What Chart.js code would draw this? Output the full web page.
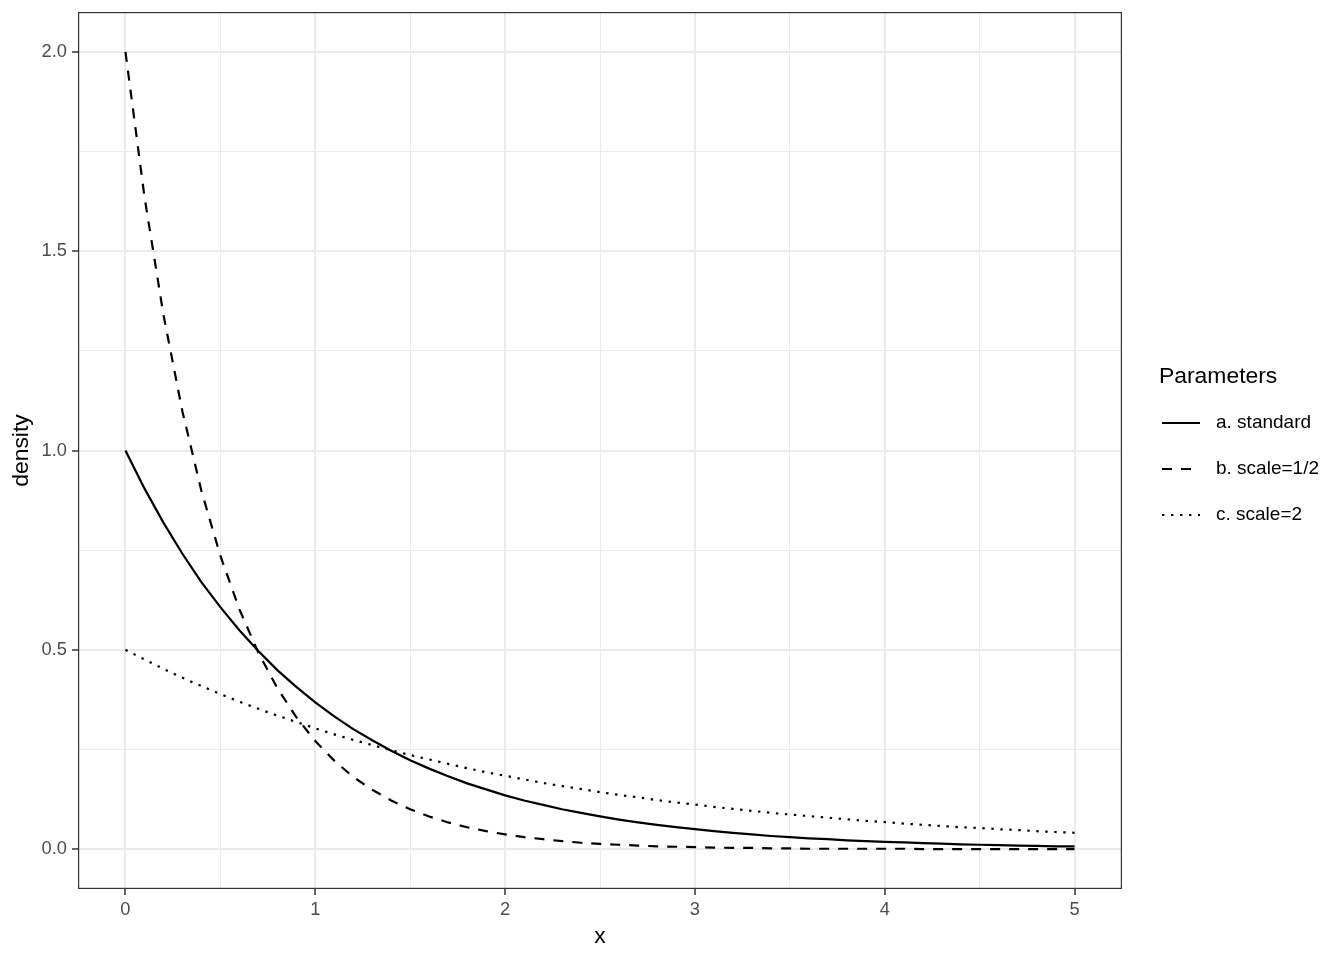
<!DOCTYPE html>
<html>
<head>
<meta charset="utf-8">
<title>Exponential densities</title>
<script src="https://cdn.jsdelivr.net/npm/chart.js@4"></script>
<style>
  html, body { margin: 0; padding: 0; background: #fff; }
  canvas { display: block; }
</style>
</head>
<body>
<canvas id="chart" width="1344" height="960"></canvas>
<script>
// x grid the curves were read at (step 0.1)
const xValues = [0, 0.1, 0.2, 0.3, 0.4, 0.5, 0.6, 0.7, 0.8, 0.9, 1, 1.1, 1.2, 1.3, 1.4, 1.5, 1.6, 1.7, 1.8, 1.9, 2,
  2.1, 2.2, 2.3, 2.4, 2.5, 2.6, 2.7, 2.8, 2.9, 3, 3.1, 3.2, 3.3, 3.4, 3.5, 3.6, 3.7, 3.8, 3.9, 4,
  4.1, 4.2, 4.3, 4.4, 4.5, 4.6, 4.7, 4.8, 4.9, 5];

const seriesLabels = ['a. standard', 'b. scale=1/2', 'c. scale=2'];

const standard = [1.000, 0.905, 0.819, 0.741, 0.670, 0.607, 0.549, 0.497, 0.449, 0.407, 0.368,
  0.333, 0.301, 0.273, 0.247, 0.223, 0.202, 0.183, 0.165, 0.150, 0.135,
  0.122, 0.111, 0.100, 0.091, 0.082, 0.074, 0.067, 0.061, 0.055, 0.050,
  0.045, 0.041, 0.037, 0.033, 0.030, 0.027, 0.025, 0.022, 0.020, 0.018,
  0.017, 0.015, 0.014, 0.012, 0.011, 0.010, 0.009, 0.008, 0.007, 0.007];

const scaleHalf = [2.000, 1.637, 1.341, 1.098, 0.899, 0.736, 0.602, 0.493, 0.404, 0.331, 0.271,
  0.222, 0.181, 0.149, 0.122, 0.100, 0.082, 0.067, 0.055, 0.045, 0.037,
  0.030, 0.025, 0.020, 0.016, 0.013, 0.011, 0.009, 0.007, 0.006, 0.005,
  0.004, 0.003, 0.003, 0.002, 0.002, 0.001, 0.001, 0.001, 0.001, 0.001,
  0.001, 0.000, 0.000, 0.000, 0.000, 0.000, 0.000, 0.000, 0.000, 0.000];

const scaleTwo = [0.500, 0.476, 0.452, 0.430, 0.409, 0.389, 0.370, 0.352, 0.335, 0.319, 0.303,
  0.288, 0.274, 0.261, 0.248, 0.236, 0.225, 0.214, 0.203, 0.193, 0.184,
  0.175, 0.166, 0.158, 0.151, 0.143, 0.136, 0.130, 0.123, 0.117, 0.112,
  0.106, 0.101, 0.096, 0.091, 0.087, 0.083, 0.079, 0.075, 0.071, 0.068,
  0.064, 0.061, 0.058, 0.055, 0.053, 0.050, 0.048, 0.045, 0.043, 0.041];

// major ticks are labelled, minor ones only get a thin grid line
const xTicks = [0, 0.5, 1, 1.5, 2, 2.5, 3, 3.5, 4, 4.5, 5];
const xMajor = [0, 1, 2, 3, 4, 5];
const yTicks = [0, 0.25, 0.5, 0.75, 1, 1.25, 1.5, 1.75, 2];
const yMajor = [0, 0.5, 1, 1.5, 2];

const FONT = '"Liberation Sans", Arial, sans-serif';
const lineStyles = [[], [10, 9], [2.4, 6.6]];

function toPoints(ys) {
  return xValues.map((x, i) => ({ x: x, y: ys[i] }));
}

function inList(list, v) {
  return list.some(m => Math.abs(m - v) < 1e-6);
}

// grey20 panel border like theme_bw
const panelBorder = {
  id: 'panelBorder',
  afterDraw(chart) {
    const { ctx, chartArea: a } = chart;
    ctx.save();
    ctx.strokeStyle = '#333333';
    ctx.lineWidth = 1.2;
    ctx.strokeRect(a.left + 0.6, a.top + 0.6, a.right - a.left - 1.2, a.bottom - a.top - 1.2);
    ctx.restore();
  }
};

// legend drawn to the right of the panel
const sideLegend = {
  id: 'sideLegend',
  afterDraw(chart) {
    const ctx = chart.ctx;
    ctx.save();
    ctx.fillStyle = '#000';
    ctx.textBaseline = 'middle';
    ctx.textAlign = 'left';
    ctx.font = '22.9px ' + FONT;
    ctx.fillText('Parameters', 1159, 377);
    ctx.font = '19px ' + FONT;
    chart.data.datasets.forEach((ds, i) => {
      const y = 423 + i * 46;
      ctx.beginPath();
      ctx.setLineDash(ds.borderDash);
      ctx.lineWidth = 2.2;
      ctx.strokeStyle = '#000';
      ctx.moveTo(1162, y);
      ctx.lineTo(1200, y);
      ctx.stroke();
      ctx.setLineDash([]);
      ctx.fillText(ds.label, 1216, y);
    });
    ctx.restore();
  }
};

const datasets = [standard, scaleHalf, scaleTwo].map((ys, i) => ({
  label: seriesLabels[i],
  data: toPoints(ys),
  borderColor: '#000',
  borderWidth: 2.2,
  borderDash: lineStyles[i],
  borderCapStyle: 'butt',
  pointRadius: 0,
  tension: 0,
  fill: false
}));

new Chart(document.getElementById('chart'), {
  type: 'line',
  data: { datasets: datasets },
  plugins: [panelBorder, sideLegend],
  options: {
    responsive: false,
    animation: false,
    layout: { padding: { top: 12, right: 222, left: 0, bottom: 0 } },
    plugins: { legend: { display: false }, tooltip: { enabled: false } },
    scales: {
      x: {
        type: 'linear',
        min: -0.25,
        max: 5.25,
        afterBuildTicks: s => { s.ticks = xTicks.map(v => ({ value: v })); },
        afterFit: s => { s.height = 71; s.paddingLeft = 0; s.paddingRight = 0; },
        grid: {
          color: '#EBEBEB',
          lineWidth: c => (c.tick && inList(xMajor, c.tick.value) ? 2 : 1),
          tickLength: 6,
          tickColor: c => (c.tick && inList(xMajor, c.tick.value) ? '#333333' : 'rgba(0,0,0,0)'),
          tickWidth: 1.5
        },
        border: { display: false },
        ticks: {
          autoSkip: false,
          maxRotation: 0,
          padding: 4,
          color: '#4D4D4D',
          font: { family: FONT, size: 18.3 },
          callback: v => (inList(xMajor, v) ? String(v) : '')
        },
        title: {
          display: true,
          text: 'x',
          color: '#000',
          font: { family: FONT, size: 22.9 },
          padding: { top: 0, bottom: 10 }
        }
      },
      y: {
        type: 'linear',
        min: -0.1,
        max: 2.1,
        afterBuildTicks: s => { s.ticks = yTicks.map(v => ({ value: v })); },
        afterFit: s => { s.width = 78; s.paddingTop = 0; s.paddingBottom = 0; },
        grid: {
          color: '#EBEBEB',
          lineWidth: c => (c.tick && inList(yMajor, c.tick.value) ? 2 : 1),
          tickLength: 6,
          tickColor: c => (c.tick && inList(yMajor, c.tick.value) ? '#333333' : 'rgba(0,0,0,0)'),
          tickWidth: 1.5
        },
        border: { display: false },
        ticks: {
          autoSkip: false,
          padding: 5,
          color: '#4D4D4D',
          font: { family: FONT, size: 18.3 },
          callback: v => (inList(yMajor, v) ? v.toFixed(1) : '')
        },
        title: {
          display: true,
          text: 'density',
          color: '#000',
          font: { family: FONT, size: 22.9 },
          padding: { top: 8, bottom: 0 }
        }
      }
    }
  }
});
</script>
</body>
</html>
